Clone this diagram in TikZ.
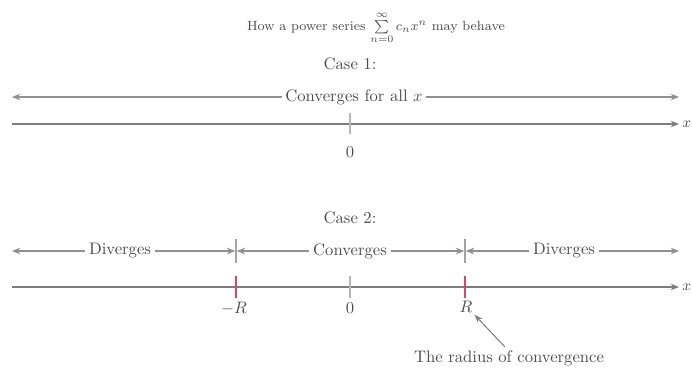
\documentclass[tikz,border=0pt]{standalone}
\usepackage{amsmath,amssymb}
\usepackage{xcolor}
\usetikzlibrary{arrows.meta}
\definecolor{axisgray}{RGB}{125,125,125}
\definecolor{tickred}{RGB}{215,70,105}
\tikzset{
  axis/.style={draw=axisgray, line width=1.1pt, -{Stealth[length=5pt,width=4pt]}},
  spanL/.style={draw=axisgray!85, line width=0.7pt, -{Stealth[length=5pt,width=4pt]}},
  bar/.style={draw=axisgray!70, line width=0.8pt},
  rtick/.style={draw=tickred, line width=1.1pt},
  gtick/.style={draw=axisgray!55, line width=0.9pt},
  pointer/.style={draw=axisgray, line width=0.6pt, -{Stealth[length=5pt,width=3.5pt]}},
  lbl/.style={text=black!70, inner sep=1pt},
  spanlbl/.style={text=black!70, inner sep=2pt}
}

\begin{document}
\begin{tikzpicture}[x=0.6pt, y=-0.6pt]
  \useasboundingbox (0,0) rectangle (692,377);
  % title
  \node[lbl, font=\footnotesize] (title) at (376,28) {How a power series $\sum\limits_{n=0}^{\infty} c_n x^n$ may behave};
  % case 1
  \node[lbl] (case1) at (350,64) {Case 1:};
  \node[spanlbl] (all) at (354,97) {Converges for all $x$};
  \coordinate (a1l) at (12,97);
  \coordinate (a1r) at (679,97);
  \draw[spanL] (all) -- (a1l);
  \draw[spanL] (all) -- (a1r);
  \coordinate (x1l) at (12,124);
  \coordinate (x1r) at (679,124);
  \draw[axis] (x1l) -- (x1r);
  \node[lbl, anchor=west, inner sep=0pt, font=\small] (xlab1) at (682,124) {$x$};
  \coordinate (z1t) at (350,113);
  \coordinate (z1b) at (350,134);
  \draw[gtick] (z1t) -- (z1b);
  \node[lbl] (zero1) at (350,152) {$0$};
  % case 2
  \node[lbl] (case2) at (350,218) {Case 2:};
  \coordinate (nb) at (236,251);
  \coordinate (pb) at (465,251);
  \coordinate (nbt) at (236,239);
  \coordinate (nbb) at (236,263);
  \coordinate (pbt) at (465,239);
  \coordinate (pbb) at (465,263);
  \draw[bar] (nbt) -- (nbb);
  \draw[bar] (pbt) -- (pbb);
  \coordinate (a2l) at (12,251);
  \coordinate (a2r) at (679,251);
  \node[spanlbl] (divL) at (120,251) {Diverges};
  \node[spanlbl] (conv) at (350,251) {Converges};
  \node[spanlbl] (divR) at (564,251) {Diverges};
  \draw[spanL] (divL) -- (a2l);
  \draw[spanL] (divL) -- ([xshift=-0.5pt]nb);
  \draw[spanL] (conv) -- ([xshift=0.5pt]nb);
  \draw[spanL] (conv) -- ([xshift=-0.5pt]pb);
  \draw[spanL] (divR) -- ([xshift=0.5pt]pb);
  \draw[spanL] (divR) -- (a2r);
  \coordinate (x2l) at (12,287);
  \coordinate (x2r) at (679,287);
  \draw[axis] (x2l) -- (x2r);
  \node[lbl, anchor=west, inner sep=0pt, font=\small] (xlab2) at (682,287) {$x$};
  \coordinate (nrt) at (236,276);
  \coordinate (nrb) at (236,298);
  \coordinate (prt) at (465,276);
  \coordinate (prb) at (465,298);
  \coordinate (z2t) at (350,276);
  \coordinate (z2b) at (350,298);
  \draw[rtick] (nrt) -- (nrb);
  \draw[rtick] (prt) -- (prb);
  \draw[gtick] (z2t) -- (z2b);
  \node[lbl] (negR) at (234,308) {$-R$};
  \node[lbl] (zero2) at (350,308) {$0$};
  \node[lbl] (posR) at (466,307) {$R$};
  % radius
  \node[lbl] (rad) at (509,358) {The radius of convergence};
  \coordinate (radtop) at (505,347);
  \draw[pointer] (radtop) -- (posR.south east);
\end{tikzpicture}
\end{document}
